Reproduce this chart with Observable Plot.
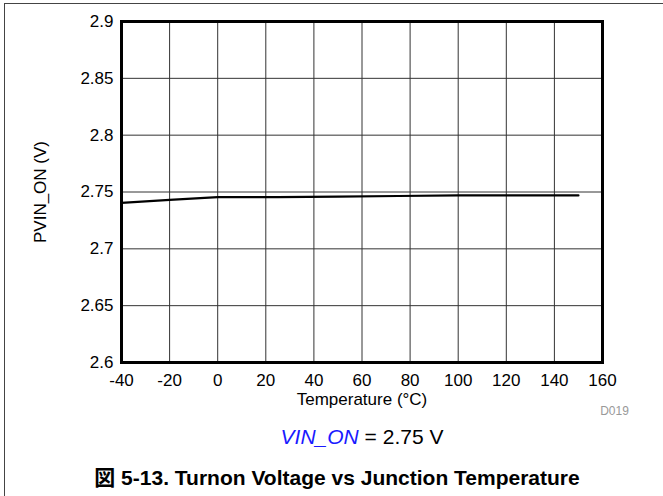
<!DOCTYPE html>
<html><head><meta charset="utf-8">
<script src="https://cdn.jsdelivr.net/npm/d3@7"></script>
<script src="https://cdn.jsdelivr.net/npm/@observablehq/plot@0.6"></script>
<style>
body{margin:0;background:#fff;font-family:Arial,"Liberation Sans",sans-serif;}
#wrap{position:relative;width:663px;height:496px;overflow:hidden;background:#fff;}
#border{position:absolute;left:4px;top:3px;width:700px;height:600px;border-left:1px solid #444;border-top:1px solid #444;z-index:2;pointer-events:none;}
#chart{position:absolute;left:0;top:0;z-index:1;}
#sub{position:absolute;left:62px;width:600px;top:425px;text-align:center;font-size:21px;color:#000;white-space:nowrap;}
#sub i{color:#1a1aff;}
#title{position:absolute;left:37px;width:600px;top:461px;text-align:center;font-size:21px;font-weight:bold;color:#000;white-space:nowrap;}
#title .cjk{font-family:"Noto Sans CJK JP",sans-serif;}
</style></head>
<body>
<div id="wrap">
<div id="chart"></div>
<div id="border"></div>
<div id="sub"><i>VIN_ON</i> = 2.75 V</div>
<div id="title"><span class="cjk">図</span> 5-13. Turnon Voltage vs Junction Temperature</div>
</div>
<script>
const temps = [-40, -20, 0, 25, 50, 75, 100, 125, 150];
const pvinOn = [2.7405, 2.743, 2.7455, 2.7455, 2.746, 2.7465, 2.747, 2.747, 2.747];
const xTicks = [-40, -20, 0, 20, 40, 60, 80, 100, 120, 140, 160];
const yTicks = [2.6, 2.65, 2.7, 2.75, 2.8, 2.85, 2.9];
const xLabel = "Temperature (°C)";
const yLabel = "PVIN_ON (V)";
const code = "D019";

const data = temps.map((t, i) => ({t, v: pvinOn[i]}));

const chart = Plot.plot({
  width: 663, height: 420,
  marginLeft: 121, marginRight: 61, marginTop: 21, marginBottom: 58,
  style: {fontFamily: "Arial, 'Liberation Sans', sans-serif", fontSize: "17px", color: "#000", background: "transparent"},
  x: {domain: [-40, 160], ticks: xTicks, tickSize: 0, tickPadding: 11, label: null, tickFormat: d => String(d)},
  y: {domain: [2.6, 2.9], ticks: yTicks, tickSize: 0, tickPadding: 8, label: null, tickFormat: d => String(d)},
  marks: [
    Plot.ruleX(xTicks, {stroke: "#333", strokeWidth: 1}),
    Plot.ruleY(yTicks, {stroke: "#333", strokeWidth: 1}),
    Plot.line(data, {x: "t", y: "v", stroke: "#000", strokeWidth: 2.2}),
    Plot.frame({stroke: "#000", strokeWidth: 3}),
    Plot.text([yLabel], {frameAnchor: "left", dx: -81, rotate: -90, fontSize: 17, textAnchor: "middle", lineAnchor: "middle"}),
    Plot.text([xLabel], {frameAnchor: "bottom", dy: 37, fontSize: 17, textAnchor: "middle", lineAnchor: "middle"}),
    Plot.text([code], {frameAnchor: "bottom-right", dx: 12, dy: 49, fill: "#999", fontSize: 12, textAnchor: "middle", lineAnchor: "middle"})
  ]
});
document.getElementById("chart").appendChild(chart);
</script>
</body></html>
